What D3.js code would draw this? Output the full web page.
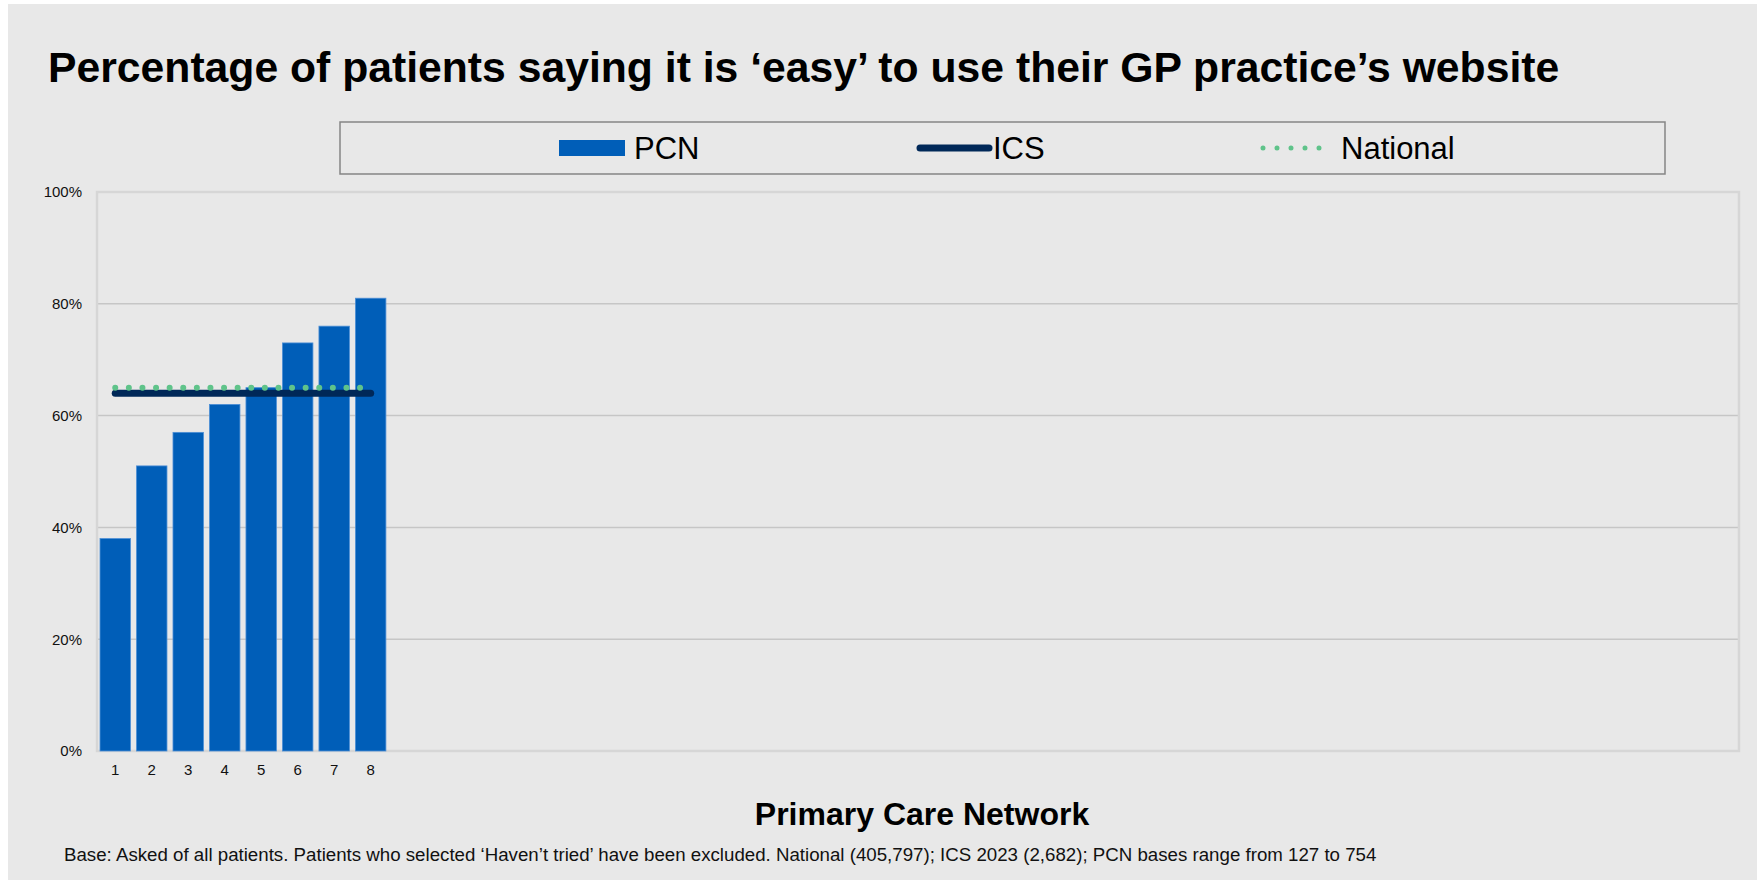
<!DOCTYPE html>
<html>
<head>
<meta charset="utf-8">
<script src="https://cdn.jsdelivr.net/npm/d3@7"></script>
<style>
  html, body { margin: 0; padding: 0; background: #ffffff; }
  svg text { font-family: "Liberation Sans", Arial, sans-serif; }
</style>
</head>
<body>
<div id="chart"></div>
<script>
// Percentage of patients saying it is 'easy' to use their GP practice's website

// chart values
var pcnLabels = ["1", "2", "3", "4", "5", "6", "7", "8"];
var pcnValues = [38, 51, 57, 62, 65, 73, 76, 81];
var icsValues = [64, 64, 64, 64, 64, 64, 64, 64];
var nationalValues = [65, 65, 65, 65, 65, 65, 65, 65];
var yTicks = [0, 20, 40, 60, 80, 100];
var slotCount = 45;   // the axis keeps room for 45 networks, only 8 are filled
var legendItems = ["PCN", "ICS", "National"];

var titleText = "Percentage of patients saying it is \u2018easy\u2019 to use their GP practice\u2019s website";
var axisTitle = "Primary Care Network";
var footnote = "Base: Asked of all patients. Patients who selected \u2018Haven\u2019t tried\u2019 have been excluded. National (405,797); ICS 2023 (2,682); PCN bases range from 127 to 754";

var width = 1757, height = 881;
var plot = {left: 97, right: 1739, top: 192, bottom: 751};
var pcnColor = "#005eb8", icsColor = "#002858", natColor = "#5fc38a";

var svg = d3.select("#chart").append("svg")
  .attr("width", width)
  .attr("height", height)
  .style("display", "block");

// background panel
svg.append("rect")
  .attr("x", 8).attr("y", 4)
  .attr("width", width - 8).attr("height", height - 5)
  .attr("fill", "#e8e8e8");

svg.append("text")
  .attr("x", 48).attr("y", 82)
  .attr("font-size", 42.7).attr("font-weight", "bold")
  .attr("fill", "#000")
  .text(titleText);

// scales
var x = d3.scaleBand()
  .domain(d3.range(slotCount))
  .range([plot.left, plot.right])
  .paddingInner(0.165)
  .paddingOuter(0.0825);

var y = d3.scaleLinear()
  .domain([0, 100])
  .range([plot.bottom, plot.top]);

// gridlines
svg.append("g")
  .selectAll("line")
  .data(yTicks.filter(d => d > 0 && d < 100))
  .enter().append("line")
    .attr("x1", plot.left).attr("x2", plot.right)
    .attr("y1", d => y(d)).attr("y2", d => y(d))
    .attr("stroke", "#c6c6c6")
    .attr("stroke-width", 1.5);

// plot frame
svg.append("rect")
  .attr("x", plot.left).attr("y", plot.top)
  .attr("width", plot.right - plot.left)
  .attr("height", plot.bottom - plot.top)
  .attr("fill", "none")
  .attr("stroke", "#d6d6d6")
  .attr("stroke-width", 2.5);

// y axis labels
var yAxis = svg.append("g")
  .attr("transform", "translate(" + (plot.left - 15) + ",0)")
  .call(d3.axisLeft(y).tickValues(yTicks).tickSize(0).tickPadding(0).tickFormat(d => d + "%"));
yAxis.select(".domain").remove();
yAxis.selectAll("text")
  .attr("font-size", 15)
  .attr("fill", "#111");

// x axis labels
var xAxis = svg.append("g")
  .attr("transform", "translate(0," + plot.bottom + ")")
  .call(d3.axisBottom(x).tickValues(d3.range(pcnLabels.length)).tickSize(0).tickPadding(13)
    .tickFormat(i => pcnLabels[i]));
xAxis.select(".domain").remove();
xAxis.selectAll("text")
  .attr("font-size", 15)
  .attr("fill", "#111");

// bars
svg.append("g")
  .selectAll("rect")
  .data(pcnValues)
  .enter().append("rect")
    .attr("x", (d, i) => x(i))
    .attr("y", d => y(d))
    .attr("width", x.bandwidth())
    .attr("height", d => y(0) - y(d))
    .attr("fill", pcnColor)
    .attr("stroke", "#4d8fd6")
    .attr("stroke-width", 0.8);

var line = d3.line()
  .x((d, i) => x(i) + x.bandwidth() / 2)
  .y(d => y(d));

// ICS line
svg.append("path")
  .datum(icsValues)
  .attr("d", line)
  .attr("fill", "none")
  .attr("stroke", icsColor)
  .attr("stroke-width", 7)
  .attr("stroke-linecap", "round");

// National dotted line
svg.append("path")
  .datum(nationalValues)
  .attr("d", line)
  .attr("fill", "none")
  .attr("stroke", natColor)
  .attr("stroke-width", 6)
  .attr("stroke-linecap", "round")
  .attr("stroke-dasharray", "0,13.6");

// legend
var legend = svg.append("g");
legend.append("rect")
  .attr("x", 340).attr("y", 122)
  .attr("width", 1325).attr("height", 52)
  .attr("fill", "none")
  .attr("stroke", "#858585")
  .attr("stroke-width", 1.5);

var legY = 148;
legend.append("rect")
  .attr("x", 559).attr("y", legY - 8)
  .attr("width", 66).attr("height", 16)
  .attr("fill", pcnColor);
legend.append("line")
  .attr("x1", 920).attr("x2", 989)
  .attr("y1", legY).attr("y2", legY)
  .attr("stroke", icsColor)
  .attr("stroke-width", 7)
  .attr("stroke-linecap", "round");
legend.append("line")
  .attr("x1", 1263).attr("x2", 1322)
  .attr("y1", legY).attr("y2", legY)
  .attr("stroke", natColor)
  .attr("stroke-width", 5)
  .attr("stroke-linecap", "round")
  .attr("stroke-dasharray", "0,14");

legend.selectAll("text.leg")
  .data(legendItems)
  .enter().append("text")
    .attr("class", "leg")
    .attr("x", (d, i) => [634, 993, 1341][i])
    .attr("y", legY + 11)
    .attr("font-size", 31)
    .attr("fill", "#000")
    .text(d => d);

// axis title and footnote
svg.append("text")
  .attr("x", (plot.left + plot.right) / 2 + 4)
  .attr("y", 825)
  .attr("text-anchor", "middle")
  .attr("font-size", 32).attr("font-weight", "bold")
  .attr("fill", "#000")
  .text(axisTitle);

svg.append("text")
  .attr("x", 64).attr("y", 861)
  .attr("font-size", 18.7)
  .attr("fill", "#111")
  .text(footnote);
</script>
</body>
</html>
